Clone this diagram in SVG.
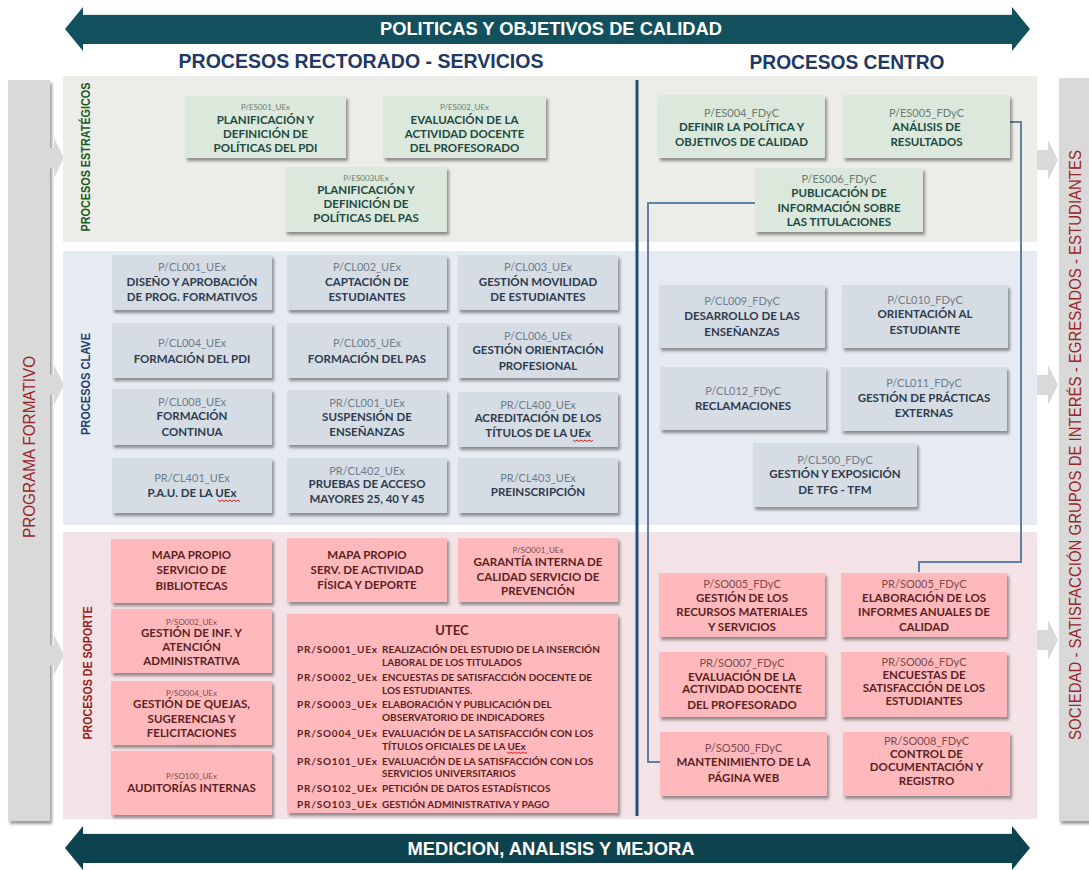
<svg xmlns="http://www.w3.org/2000/svg" width="1089" height="870" viewBox="0 0 1089 870">
<defs>
<filter id="sh" x="-10%" y="-10%" width="130%" height="140%"><feDropShadow dx="2" dy="3" stdDeviation="1.5" flood-color="#000" flood-opacity="0.4"/></filter>
<style>
.band{fill:#11505c}
.bandb{fill:#0d434e}
.hd{font-family:"Liberation Sans Narrow","Liberation Sans",Arial,sans-serif;font-weight:bold}
.w{fill:#ffffff}
.nv{fill:#1f3864}
.col{fill:#d9d9d9;filter:url(#sh)}
.sidel{font-family:"Liberation Sans Narrow","Liberation Sans",Arial,sans-serif;font-size:16px}
.pl{font-family:"Liberation Sans Narrow","Liberation Sans",Arial,sans-serif;font-size:13px;font-weight:bold}
.es rect{fill:#dbe8db;filter:url(#sh)}
.cl rect{fill:#d6dce4;filter:url(#sh)}
.so rect{fill:#ffb9bc;filter:url(#sh)}
text.t{font-family:Lato,"Liberation Sans",Arial,sans-serif;font-weight:bold;font-size:11.5px;text-anchor:middle}
text.c{font-family:Lato,"Liberation Sans",Arial,sans-serif;font-size:11px;text-anchor:middle}
text.cs{font-family:Lato,"Liberation Sans",Arial,sans-serif;font-size:8px;text-anchor:middle}
.es .t{fill:#1d4a42}.es .c,.es .cs{fill:#6b7d70}
.cl .t{fill:#2d3b4e}.cl .c{fill:#6f7d8c}
.so .t{fill:#5a1f1f}.so .c,.so .cs{fill:#7d4b4b}
.ut{font-family:Lato,"Liberation Sans",Arial,sans-serif;font-weight:bold;font-size:10px;fill:#5a1f1f}
.conn{fill:none;stroke:#5f7fa3;stroke-width:2}
.sq{fill:none;stroke:#e02020;stroke-width:1}
</style>
</defs>
<rect width="1089" height="870" fill="#ffffff"/>

<!-- top and bottom bands -->
<g id="band-top">
<polygon class="band" points="65,29 83,7 83,14 1012,14 1012,7 1030,29 1012,51 1012,44 83,44 83,51"/>
<line x1="83" y1="14.5" x2="1012" y2="14.5" stroke="#dfe7e9" stroke-width="1"/>
<text class="hd w" x="551" y="35" font-size="19" text-anchor="middle" textLength="342" lengthAdjust="spacingAndGlyphs">POLITICAS Y OBJETIVOS DE CALIDAD</text>
</g>

<!-- side columns -->
<g id="programa-formativo">
<rect class="col" x="8" y="80" width="42" height="741"/>
<polygon fill="#d9d9d9" points="50,148 54,148 54,138 64,158 54,178 54,168 50,168"/>
<polygon fill="#d9d9d9" points="50,375 54,375 54,365 64,385 54,405 54,395 50,395"/>
<polygon fill="#d9d9d9" points="50,645 54,645 54,635 64,655 54,675 54,665 50,665"/>
<text class="sidel" fill="#9b2424" transform="translate(35,447) rotate(-90)" text-anchor="middle" textLength="182" lengthAdjust="spacingAndGlyphs">PROGRAMA FORMATIVO</text>
</g>
<g id="sociedad">
<rect class="col" x="1059" y="78" width="32" height="743"/>
<polygon fill="#d9d9d9" points="1037,150 1048,150 1048,140 1058,160 1048,180 1048,170 1037,170"/>
<polygon fill="#d9d9d9" points="1037,375 1048,375 1048,365 1058,385 1048,405 1048,395 1037,395"/>
<polygon fill="#d9d9d9" points="1037,630 1048,630 1048,620 1058,640 1048,660 1048,650 1037,650"/>
<text class="sidel" fill="#9b2424" transform="translate(1081,445) rotate(-90)" text-anchor="middle" textLength="590" lengthAdjust="spacingAndGlyphs">SOCIEDAD - SATISFACCIÓN GRUPOS DE INTERÉS - EGRESADOS - ESTUDIANTES</text>
</g>

<text class="hd nv" x="361" y="68" font-size="20" text-anchor="middle" textLength="365" lengthAdjust="spacingAndGlyphs">PROCESOS RECTORADO - SERVICIOS</text>
<text class="hd nv" x="847" y="69" font-size="20" text-anchor="middle" textLength="195" lengthAdjust="spacingAndGlyphs">PROCESOS CENTRO</text>

<!-- panels -->
<g id="panel-estrategicos">
<rect x="63" y="76" width="974" height="166" fill="#ecede8"/>
<text class="pl" fill="#1c5a1c" transform="translate(90,157) rotate(-90)" text-anchor="middle" textLength="149" lengthAdjust="spacingAndGlyphs">PROCESOS ESTRATÉGICOS</text>
</g>
<g id="panel-clave">
<rect x="63" y="251" width="974" height="274" fill="#e6ebf2"/>
<text class="pl" fill="#1f3d6e" transform="translate(90,384) rotate(-90)" text-anchor="middle" textLength="102" lengthAdjust="spacingAndGlyphs">PROCESOS CLAVE</text>
</g>
<g id="panel-soporte">
<rect x="63" y="532" width="974" height="287" fill="#f4e3e6"/>
<text class="pl" fill="#9c1c1c" transform="translate(92,673) rotate(-90)" text-anchor="middle" textLength="133" lengthAdjust="spacingAndGlyphs">PROCESOS DE SOPORTE</text>
</g>

<g id="band-bottom">
<polygon class="bandb" points="65,848 83,826 83,833 1012,833 1012,826 1030,848 1012,870 1012,863 83,863 83,870"/>
<line x1="83" y1="833.5" x2="1012" y2="833.5" stroke="#dfe7e9" stroke-width="1"/>
<text class="hd w" x="551" y="855" font-size="19" text-anchor="middle" textLength="287" lengthAdjust="spacingAndGlyphs">MEDICION, ANALISIS Y MEJORA</text>
</g>

<line x1="637" y1="80" x2="637" y2="816" stroke="#1f4e79" stroke-width="3"/>

<!-- connectors -->
<g id="connectors">
<path class="conn" d="M755,203 H648 V762 H660"/>
<path class="conn" d="M1010,122 H1021 V562 H919 V572"/>
</g>

<!-- strategic nodes -->
<g id="ES001" class="es"><rect x="185" y="96" width="161" height="62"/>
<text class="cs" x="265.5" y="110">P/ES001_UEx</text>
<text class="t" x="265.5" y="124">PLANIFICACIÓN Y</text><text class="t" x="265.5" y="138">DEFINICIÓN DE</text><text class="t" x="265.5" y="152">POLÍTICAS DEL PDI</text></g>
<g id="ES002" class="es"><rect x="383" y="96" width="163" height="62"/>
<text class="cs" x="464.5" y="110">P/ES002_UEx</text>
<text class="t" x="464.5" y="124">EVALUACIÓN DE LA</text><text class="t" x="464.5" y="138">ACTIVIDAD DOCENTE</text><text class="t" x="464.5" y="152">DEL PROFESORADO</text></g>
<g id="ES003" class="es"><rect x="285" y="167" width="162" height="65"/>
<text class="cs" x="366" y="181">P/ES003UEx</text>
<text class="t" x="366" y="194">PLANIFICACIÓN Y</text><text class="t" x="366" y="208">DEFINICIÓN DE</text><text class="t" x="366" y="222">POLÍTICAS DEL PAS</text></g>
<g id="ES004" class="es"><rect x="658" y="95" width="167" height="63"/>
<text class="c" x="741.5" y="117">P/ES004_FDyC</text>
<text class="t" x="741.5" y="131">DEFINIR LA POLÍTICA Y</text><text class="t" x="741.5" y="146">OBJETIVOS DE CALIDAD</text></g>
<g id="ES005" class="es"><rect x="843" y="95" width="167" height="63"/>
<text class="c" x="926.5" y="117">P/ES005_FDyC</text>
<text class="t" x="926.5" y="131">ANÁLISIS DE</text><text class="t" x="926.5" y="146">RESULTADOS</text></g>
<g id="ES006" class="es"><rect x="755" y="168" width="168" height="64"/>
<text class="c" x="839" y="183">P/ES006_FDyC</text>
<text class="t" x="839" y="197">PUBLICACIÓN DE</text><text class="t" x="839" y="212">INFORMACIÓN SOBRE</text><text class="t" x="839" y="226">LAS TITULACIONES</text></g>

<!-- key nodes UEx -->
<g id="CL001" class="cl"><rect x="112" y="255" width="160" height="55"/>
<text class="c" x="192" y="271">P/CL001_UEx</text>
<text class="t" x="192" y="286">DISEÑO Y APROBACIÓN</text><text class="t" x="192" y="301">DE PROG. FORMATIVOS</text></g>
<g id="CL002" class="cl"><rect x="287" y="255" width="160" height="55"/>
<text class="c" x="367" y="271">P/CL002_UEx</text>
<text class="t" x="367" y="286">CAPTACIÓN DE</text><text class="t" x="367" y="301">ESTUDIANTES</text></g>
<g id="CL003" class="cl"><rect x="458" y="255" width="160" height="55"/>
<text class="c" x="538" y="271">P/CL003_UEx</text>
<text class="t" x="538" y="286">GESTIÓN MOVILIDAD</text><text class="t" x="538" y="301">DE ESTUDIANTES</text></g>
<g id="CL004" class="cl"><rect x="112" y="323" width="160" height="55"/>
<text class="c" x="192" y="347">P/CL004_UEx</text>
<text class="t" x="192" y="363">FORMACIÓN DEL PDI</text></g>
<g id="CL005" class="cl"><rect x="287" y="323" width="160" height="55"/>
<text class="c" x="367" y="347">P/CL005_UEx</text>
<text class="t" x="367" y="363">FORMACIÓN DEL PAS</text></g>
<g id="CL006" class="cl"><rect x="458" y="323" width="160" height="55"/>
<text class="c" x="538" y="340">P/CL006_UEx</text>
<text class="t" x="538" y="354">GESTIÓN ORIENTACIÓN</text><text class="t" x="538" y="370">PROFESIONAL</text></g>
<g id="CL008" class="cl"><rect x="112" y="389" width="160" height="56"/>
<text class="c" x="192" y="406">P/CL008_UEx</text>
<text class="t" x="192" y="420">FORMACIÓN</text><text class="t" x="192" y="436">CONTINUA</text></g>
<g id="PRCL001" class="cl"><rect x="287" y="390" width="160" height="55"/>
<text class="c" x="367" y="407">PR/CL001_UEx</text>
<text class="t" x="367" y="421">SUSPENSIÓN DE</text><text class="t" x="367" y="436">ENSEÑANZAS</text></g>
<g id="PRCL400" class="cl"><rect x="458" y="392" width="160" height="55"/>
<text class="c" x="538" y="409">PR/CL400_UEx</text>
<text class="t" x="538" y="422">ACREDITACIÓN DE LOS</text><text class="t" x="538" y="437">TÍTULOS DE LA UEx</text>
<path class="sq" d="M573,440 l2,1.5 l2,-1.5 l2,1.5 l2,-1.5 l2,1.5 l2,-1.5 l2,1.5 l2,-1.5 l2,1.5 l2,-1.5"/></g>
<g id="PRCL401" class="cl"><rect x="112" y="458" width="160" height="55"/>
<text class="c" x="192" y="482">PR/CL401_UEx</text>
<text class="t" x="192" y="497">P.A.U. DE LA UEx</text>
<path class="sq" d="M218,500 l2,1.5 l2,-1.5 l2,1.5 l2,-1.5 l2,1.5 l2,-1.5 l2,1.5 l2,-1.5 l2,1.5 l2,-1.5 l2,1.5"/></g>
<g id="PRCL402" class="cl"><rect x="287" y="458" width="160" height="55"/>
<text class="c" x="367" y="475">PR/CL402_UEx</text>
<text class="t" x="367" y="488">PRUEBAS DE ACCESO</text><text class="t" x="367" y="503">MAYORES 25, 40 Y 45</text></g>
<g id="PRCL403" class="cl"><rect x="458" y="458" width="160" height="55"/>
<text class="c" x="538" y="482">PR/CL403_UEx</text>
<text class="t" x="538" y="496">PREINSCRIPCIÓN</text></g>

<!-- key nodes centro -->
<g id="CL009" class="cl"><rect x="659" y="285" width="166" height="63"/>
<text class="c" x="742" y="305">P/CL009_FDyC</text>
<text class="t" x="742" y="320">DESARROLLO DE LAS</text><text class="t" x="742" y="336">ENSEÑANZAS</text></g>
<g id="CL010" class="cl"><rect x="842" y="285" width="166" height="63"/>
<text class="c" x="925" y="304">P/CL010_FDyC</text>
<text class="t" x="925" y="318">ORIENTACIÓN AL</text><text class="t" x="925" y="334">ESTUDIANTE</text></g>
<g id="CL012" class="cl"><rect x="660" y="367" width="166" height="63"/>
<text class="c" x="743" y="395">P/CL012_FDyC</text>
<text class="t" x="743" y="410">RECLAMACIONES</text></g>
<g id="CL011" class="cl"><rect x="841" y="367" width="166" height="64"/>
<text class="c" x="924" y="387">P/CL011_FDyC</text>
<text class="t" x="924" y="402">GESTIÓN DE PRÁCTICAS</text><text class="t" x="924" y="417">EXTERNAS</text></g>
<g id="CL500" class="cl"><rect x="753" y="443" width="164" height="64"/>
<text class="c" x="835" y="464">P/CL500_FDyC</text>
<text class="t" x="835" y="478">GESTIÓN Y EXPOSICIÓN</text><text class="t" x="835" y="494">DE TFG - TFM</text></g>

<!-- support nodes UEx -->
<g id="BIBLIO" class="so"><rect x="111" y="539" width="161" height="64"/>
<text class="t" x="191.5" y="559">MAPA PROPIO</text><text class="t" x="191.5" y="574">SERVICIO DE</text><text class="t" x="191.5" y="590">BIBLIOTECAS</text></g>
<g id="DEPORTE" class="so"><rect x="287" y="538" width="160" height="64"/>
<text class="t" x="367" y="559">MAPA PROPIO</text><text class="t" x="367" y="574">SERV. DE ACTIVIDAD</text><text class="t" x="367" y="589">FÍSICA Y DEPORTE</text></g>
<g id="SO001" class="so"><rect x="458" y="538" width="160" height="64"/>
<text class="cs" x="538" y="553">P/SO001_UEx</text>
<text class="t" x="538" y="566">GARANTÍA INTERNA DE</text><text class="t" x="538" y="581">CALIDAD SERVICIO DE</text><text class="t" x="538" y="595">PREVENCIÓN</text></g>
<g id="SO002" class="so"><rect x="111" y="609" width="161" height="64"/>
<text class="cs" x="191.5" y="625">P/SO002_UEx</text>
<text class="t" x="191.5" y="637">GESTIÓN DE INF. Y</text><text class="t" x="191.5" y="651">ATENCIÓN</text><text class="t" x="191.5" y="665">ADMINISTRATIVA</text></g>
<g id="SO004" class="so"><rect x="111" y="681" width="161" height="64"/>
<text class="cs" x="191.5" y="696">P/SO004_UEx</text>
<text class="t" x="191.5" y="708">GESTIÓN DE QUEJAS,</text><text class="t" x="191.5" y="723">SUGERENCIAS Y</text><text class="t" x="191.5" y="737">FELICITACIONES</text></g>
<g id="SO100" class="so"><rect x="111" y="751" width="161" height="64"/>
<text class="cs" x="191.5" y="779">P/SO100_UEx</text>
<text class="t" x="191.5" y="792">AUDITORÍAS INTERNAS</text></g>
<g id="UTEC" class="so"><rect x="287" y="614" width="331" height="199"/>
<text class="t" x="452" y="635" style="font-size:13px">UTEC</text>
<text class="ut" x="297" y="652.5" textLength="80">PR/SO001_UEx</text><text class="ut" x="382" y="652.5">REALIZACIÓN DEL ESTUDIO DE LA INSERCIÓN</text>
<text class="ut" x="382" y="665.5">LABORAL DE LOS TITULADOS</text>
<text class="ut" x="297" y="680.5" textLength="80">PR/SO002_UEx</text><text class="ut" x="382" y="680.5">ENCUESTAS DE SATISFACCIÓN DOCENTE DE</text>
<text class="ut" x="382" y="693.5">LOS ESTUDIANTES.</text>
<text class="ut" x="297" y="707.5" textLength="80">PR/SO003_UEx</text><text class="ut" x="382" y="707.5">ELABORACIÓN Y PUBLICACIÓN DEL</text>
<text class="ut" x="382" y="720.5">OBSERVATORIO DE INDICADORES</text>
<text class="ut" x="297" y="736.5" textLength="80">PR/SO004_UEx</text><text class="ut" x="382" y="736.5"> EVALUACIÓN DE LA SATISFACCIÓN CON LOS</text>
<text class="ut" x="382" y="749.5">TÍTULOS OFICIALES DE LA UEx</text>
<text class="ut" x="297" y="764.5" textLength="80">PR/SO101_UEx</text><text class="ut" x="382" y="764.5">EVALUACIÓN DE LA SATISFACCIÓN CON LOS</text>
<text class="ut" x="382" y="776.5">SERVICIOS UNIVERSITARIOS</text>
<text class="ut" x="297" y="791.5" textLength="80">PR/SO102_UEx</text><text class="ut" x="382" y="791.5">PETICIÓN DE DATOS ESTADÍSTICOS</text>
<text class="ut" x="297" y="808" textLength="80">PR/SO103_UEx</text><text class="ut" x="382" y="808">GESTIÓN ADMINISTRATIVA Y PAGO</text>
<path class="sq" d="M507,752 l2,1.5 l2,-1.5 l2,1.5 l2,-1.5 l2,1.5 l2,-1.5 l2,1.5 l2,-1.5 l2,1.5 l2,-1.5"/>
</g>

<!-- support nodes centro -->
<g id="SO005F" class="so"><rect x="659" y="573" width="166" height="64"/>
<text class="c" x="742" y="588">P/SO005_FDyC</text>
<text class="t" x="742" y="602">GESTIÓN DE LOS</text><text class="t" x="742" y="616">RECURSOS MATERIALES</text><text class="t" x="742" y="631">Y SERVICIOS</text></g>
<g id="PRSO005F" class="so"><rect x="841" y="573" width="166" height="64"/>
<text class="c" x="924" y="588">PR/SO005_FDyC</text>
<text class="t" x="924" y="602">ELABORACIÓN DE LOS</text><text class="t" x="924" y="616">INFORMES ANUALES DE</text><text class="t" x="924" y="631">CALIDAD</text></g>
<g id="PRSO007F" class="so"><rect x="659" y="652" width="166" height="65"/>
<text class="c" x="742" y="667">PR/SO007_FDyC</text>
<text class="t" x="742" y="681">EVALUACIÓN DE LA</text><text class="t" x="742" y="693">ACTIVIDAD DOCENTE</text><text class="t" x="742" y="709">DEL PROFESORADO</text></g>
<g id="PRSO006F" class="so"><rect x="841" y="652" width="166" height="65"/>
<text class="c" x="924" y="666">PR/SO006_FDyC</text>
<text class="t" x="924" y="679">ENCUESTAS DE</text><text class="t" x="924" y="692">SATISFACCIÓN DE LOS</text><text class="t" x="924" y="705">ESTUDIANTES</text></g>
<g id="SO500F" class="so"><rect x="660" y="732" width="167" height="64"/>
<text class="c" x="743.5" y="752">P/SO500_FDyC</text>
<text class="t" x="743.5" y="766">MANTENIMIENTO DE LA</text><text class="t" x="743.5" y="782">PÁGINA WEB</text></g>
<g id="PRSO008F" class="so"><rect x="843" y="732" width="167" height="64"/>
<text class="c" x="926.5" y="745">PR/SO008_FDyC</text>
<text class="t" x="926.5" y="758">CONTROL DE</text><text class="t" x="926.5" y="771">DOCUMENTACIÓN Y</text><text class="t" x="926.5" y="785">REGISTRO</text></g>
</svg>
